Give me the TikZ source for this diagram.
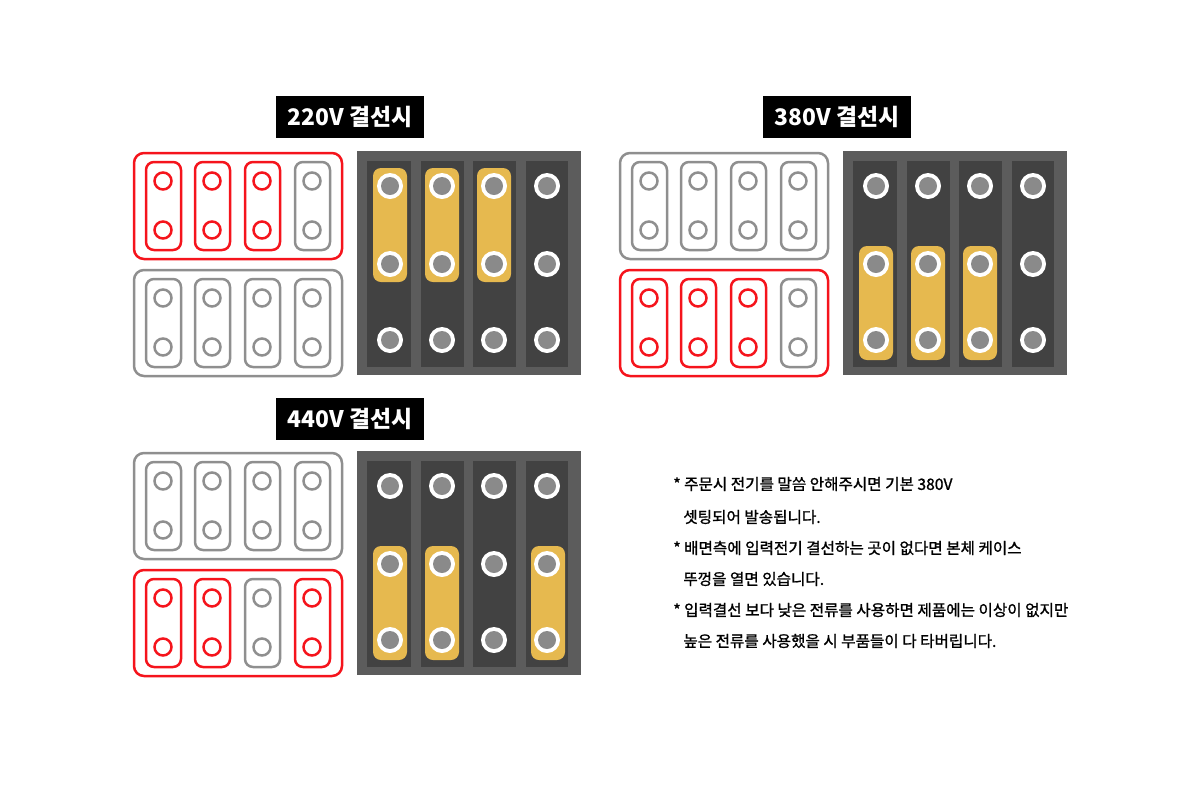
\documentclass[tikz,border=0pt]{standalone}
\usepackage{fontspec}
\setmainfont{Noto Sans CJK KR}
\newfontfamily\notefont{Noto Sans CJK KR}[RawFeature={embolden=1.2}]
\definecolor{wirered}{HTML}{F5141C}
\definecolor{wiregray}{HTML}{8F8F8F}
\definecolor{casegray}{HTML}{5C5C5C}
\definecolor{stripgray}{HTML}{424242}
\definecolor{bargold}{HTML}{E6B94F}
\definecolor{boltgray}{HTML}{8A8A8A}
\tikzset{
    titlebar/.style={fill=black, text=white, minimum width=2.96cm, minimum height=0.84cm, inner sep=0pt, font=\fontsize{13}{16}\selectfont\bfseries},
    noteline/.style={anchor=west, inner sep=0pt, font=\notefont\fontsize{8.9}{10}\selectfont},
    frameline/.style={line width=0.05cm, rounded corners=0.2cm},
    linkline/.style={line width=0.05cm, rounded corners=0.16cm},
    holeline/.style={line width=0.05cm},
}
% one outlined group: left, top, frame colour, colours of the four links
\newcommand{\wiregroup}[7]{
    \draw[frameline, #3] (#1+1,#2+1) rectangle ++(208,106);
    \foreach \cx/\cc in {30/#4, 79/#5, 129/#6, 179/#7} {
        \draw[linkline, \cc] (#1+\cx-17,#2+10) rectangle ++(35,88);
        \draw[holeline, \cc] (#1+\cx,#2+29) circle (8.5);
        \draw[holeline, \cc] (#1+\cx,#2+78) circle (8.5);
    }
}
% terminal block: left, top, first row of the bars, x of the bars
\newcommand{\terminalblock}[4]{
    \fill[casegray] (#1,#2) rectangle ++(224,224);
    \foreach \sx/\sw in {10/44, 64/43, 116/43, 169/42}
        \fill[stripgray] (#1+\sx,#2+10) rectangle ++(\sw,206);
    \foreach \bx in {#4}
        \fill[bargold, rounded corners=0.16cm] (#1+\bx-17,#2+#3-18) rectangle ++(34,114);
    \foreach \tx in {33, 85, 137, 190}
        \foreach \ty in {35, 113, 189} {
            \fill[white] (#1+\tx,#2+\ty) circle (13);
            \fill[boltgray] (#1+\tx,#2+\ty) circle (9);
        }
}
\begin{document}
\begin{tikzpicture}[x=0.02cm, y=-0.02cm]
    \useasboundingbox (0,0) rectangle (1200,785);
    % titles
    \node[titlebar] (title220) at (350,117) {220V 결선시};
    \node[titlebar] (title380) at (837,117) {380V 결선시};
    \node[titlebar] (title440) at (350,418.5) {440V 결선시};
    % 220V
    \wiregroup{133}{152}{wirered}{wirered}{wirered}{wirered}{wiregray}
    \wiregroup{133}{269}{wiregray}{wiregray}{wiregray}{wiregray}{wiregray}
    \terminalblock{357}{151}{35}{33,85,137}
    % 380V
    \wiregroup{619}{152}{wiregray}{wiregray}{wiregray}{wiregray}{wiregray}
    \wiregroup{619}{269}{wirered}{wirered}{wirered}{wirered}{wiregray}
    \terminalblock{843}{151}{113}{33,85,137}
    % 440V
    \wiregroup{133}{452}{wiregray}{wiregray}{wiregray}{wiregray}{wiregray}
    \wiregroup{133}{569}{wirered}{wirered}{wirered}{wiregray}{wirered}
    \terminalblock{357}{451}{113}{33,85,191}
    % notes
    \node[noteline] (note1) at (673,484) {* 주문시 전기를 말씀 안해주시면 기본 380V};
    \node[noteline] (note2) at (683,517) {셋팅되어 발송됩니다.};
    \node[noteline] (note3) at (673,548) {* 배면측에 입력전기 결선하는 곳이 없다면 본체 케이스};
    \node[noteline] (note4) at (683,579) {뚜껑을 열면 있습니다.};
    \node[noteline] (note5) at (673,610) {* 입력결선 보다 낮은 전류를 사용하면 제품에는 이상이 없지만};
    \node[noteline] (note6) at (683,641) {높은 전류를 사용했을 시 부품들이 다 타버립니다.};
\end{tikzpicture}
\end{document}
